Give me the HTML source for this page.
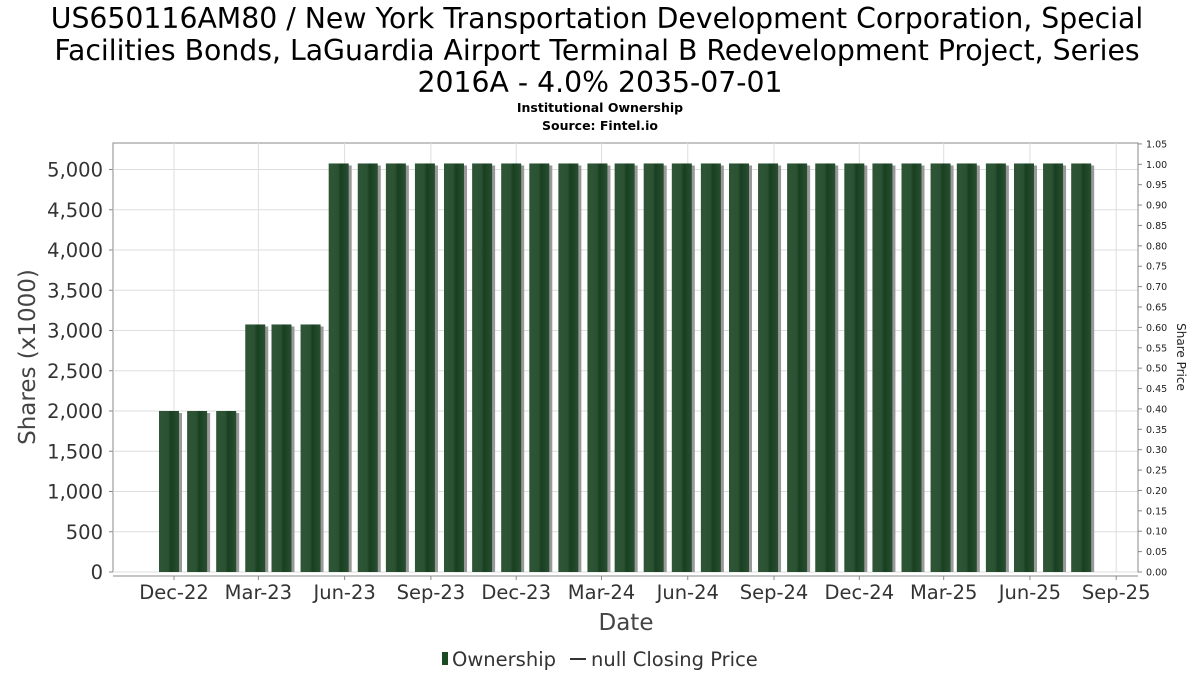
<!DOCTYPE html>
<html><head><meta charset="utf-8"><style>
body{margin:0;background:#fff;width:1200px;height:675px;overflow:hidden;font-family:"DejaVu Sans","Liberation Sans",sans-serif}
</style></head><body>
<svg id="chart" width="1200" height="675" xmlns="http://www.w3.org/2000/svg" style="font-family:'DejaVu Sans','Liberation Sans',sans-serif">
<defs>
<linearGradient id="barg" x1="0" x2="1" y1="0" y2="0">
<stop offset="0" stop-color="#2f5537"/><stop offset="0.45" stop-color="#2c5234"/><stop offset="0.6" stop-color="#173f20"/><stop offset="1" stop-color="#2a4f32"/>
</linearGradient>
</defs>
<g font-size="28.3" fill="#000" text-anchor="middle">
<text x="597" y="28">US650116AM80 / New York Transportation Development Corporation, Special</text>
<text x="597" y="60">Facilities Bonds, LaGuardia Airport Terminal B Redevelopment Project, Series</text>
<text x="600" y="92">2016A - 4.0% 2035-07-01</text>
</g>
<text x="600" y="112" font-size="12.5" font-weight="bold" text-anchor="middle">Institutional Ownership</text>
<text x="600" y="130" font-size="12.5" font-weight="bold" text-anchor="middle">Source: Fintel.io</text>
<rect x="113" y="143" width="1025" height="429" fill="#fff" stroke="#888" stroke-width="1"/>
<g id="grid"></g>
<g id="bars"></g>
<g id="axes"></g>
<text transform="translate(35,357) rotate(-90)" font-size="23" fill="#444" text-anchor="middle">Shares (x1000)</text>
<text transform="translate(1177,357) rotate(90)" font-size="12" fill="#222" text-anchor="middle">Share Price</text>
<text x="626" y="630" font-size="23" fill="#444" text-anchor="middle">Date</text>
<g font-size="19.5" fill="#333">
<rect x="442" y="652" width="6" height="13" fill="#1b4a25"/>
<text x="452" y="666">Ownership</text>
<line x1="570" y1="659" x2="586" y2="659" stroke="#333" stroke-width="2"/>
<text x="591" y="666">null Closing Price</text>
</g>
</svg>
<script>
const barDates = ["2022-11-15","2022-12-15","2023-01-15","2023-02-15","2023-03-15","2023-04-15","2023-05-15","2023-06-15","2023-07-15","2023-08-15","2023-09-15","2023-10-15","2023-11-15","2023-12-15","2024-01-15","2024-02-15","2024-03-15","2024-04-15","2024-05-15","2024-06-15","2024-07-15","2024-08-15","2024-09-15","2024-10-15","2024-11-15","2024-12-15","2025-01-15","2025-02-15","2025-03-15","2025-04-15","2025-05-15","2025-06-15","2025-07-15"];
const shares = [2000,2000,2000,3075,3075,3075,5075,5075,5075,5075,5075,5075,5075,5075,5075,5075,5075,5075,5075,5075,5075,5075,5075,5075,5075,5075,5075,5075,5075,5075,5075,5075,5075];
const xTickDates = ["2022-12-01","2023-03-01","2023-06-01","2023-09-01","2023-12-01","2024-03-01","2024-06-01","2024-09-01","2024-12-01","2025-03-01","2025-06-01","2025-09-01"];
const xTickLabels = ["Dec-22","Mar-23","Jun-23","Sep-23","Dec-23","Mar-24","Jun-24","Sep-24","Dec-24","Mar-25","Jun-25","Sep-25"];
const yTicks = [0,500,1000,1500,2000,2500,3000,3500,4000,4500,5000];
const priceTicks = [0,0.05,0.1,0.15,0.2,0.25,0.3,0.35,0.4,0.45,0.5,0.55,0.6,0.65,0.7,0.75,0.8,0.85,0.9,0.95,1.0,1.05];

const NS="http://www.w3.org/2000/svg";
const T0=Date.UTC(2022,11,1);
function x(d){const t=Date.parse(d+"T00:00:00Z");return 174+(t-T0)/86400000*0.9375;}
function y(v){return 572-v*402.5/5000;}
function yp(v){return 572-v*(572-164.3)/1.0;}
function mk(tag,attrs,parent){const e=document.createElementNS(NS,tag);for(const k in attrs)e.setAttribute(k,attrs[k]);parent.appendChild(e);return e;}
const grid=document.getElementById('grid'),bars=document.getElementById('bars'),axes=document.getElementById('axes');
yTicks.forEach(v=>{
  const l=mk('line',{x1:113,x2:1138,y1:y(v),y2:y(v),stroke:'#ddd','stroke-width':1},grid);
  
  
  const t=mk('line',{x1:109,x2:113,y1:y(v),y2:y(v),stroke:'#888'},axes);
  
  
  const tx=mk('text',{x:103,y:y(v)+7,'font-size':19.5,fill:'#333','text-anchor':'end'},axes);
  tx.textContent=v.toLocaleString('en-US');
  
  
});
xTickDates.forEach((d,i)=>{
  const xx=x(d);
  const l=mk('line',{x1:xx,x2:xx,y1:143,y2:572,stroke:'#ddd'},grid);
  
  
  const t=mk('line',{x1:xx,x2:xx,y1:576,y2:580,stroke:'#888'},axes);
  
  
  const tx=mk('text',{x:xx,y:599,'font-size':19.5,fill:'#333','text-anchor':'middle'},axes);
  tx.textContent=xTickLabels[i];
  
  
});
const xa=mk('line',{x1:113,x2:1138,y1:576,y2:576,stroke:'#888'},axes);


const ra=mk('line',{x1:1138,x2:1138,y1:143,y2:572,stroke:'#888'},axes);


priceTicks.forEach(v=>{
  const t=mk('line',{x1:1138,x2:1142,y1:yp(v),y2:yp(v),stroke:'#888'},axes);
  
  
  const tx=mk('text',{x:1146,y:yp(v)+3.5,'font-size':9.5,fill:'#222'},axes);
  tx.textContent=v.toFixed(2);
  
  
});
barDates.forEach((d,i)=>{
  const bx=x(d),top=y(shares[i]);
  const s=mk('rect',{x:bx+3,y:top+2,width:20,height:572-top-2,fill:'#999'},bars);
  
  
  const b=mk('rect',{x:bx,y:top,width:20,height:572-top,fill:'url(#barg)'},bars);
  
  
});
</script>
</body></html>
